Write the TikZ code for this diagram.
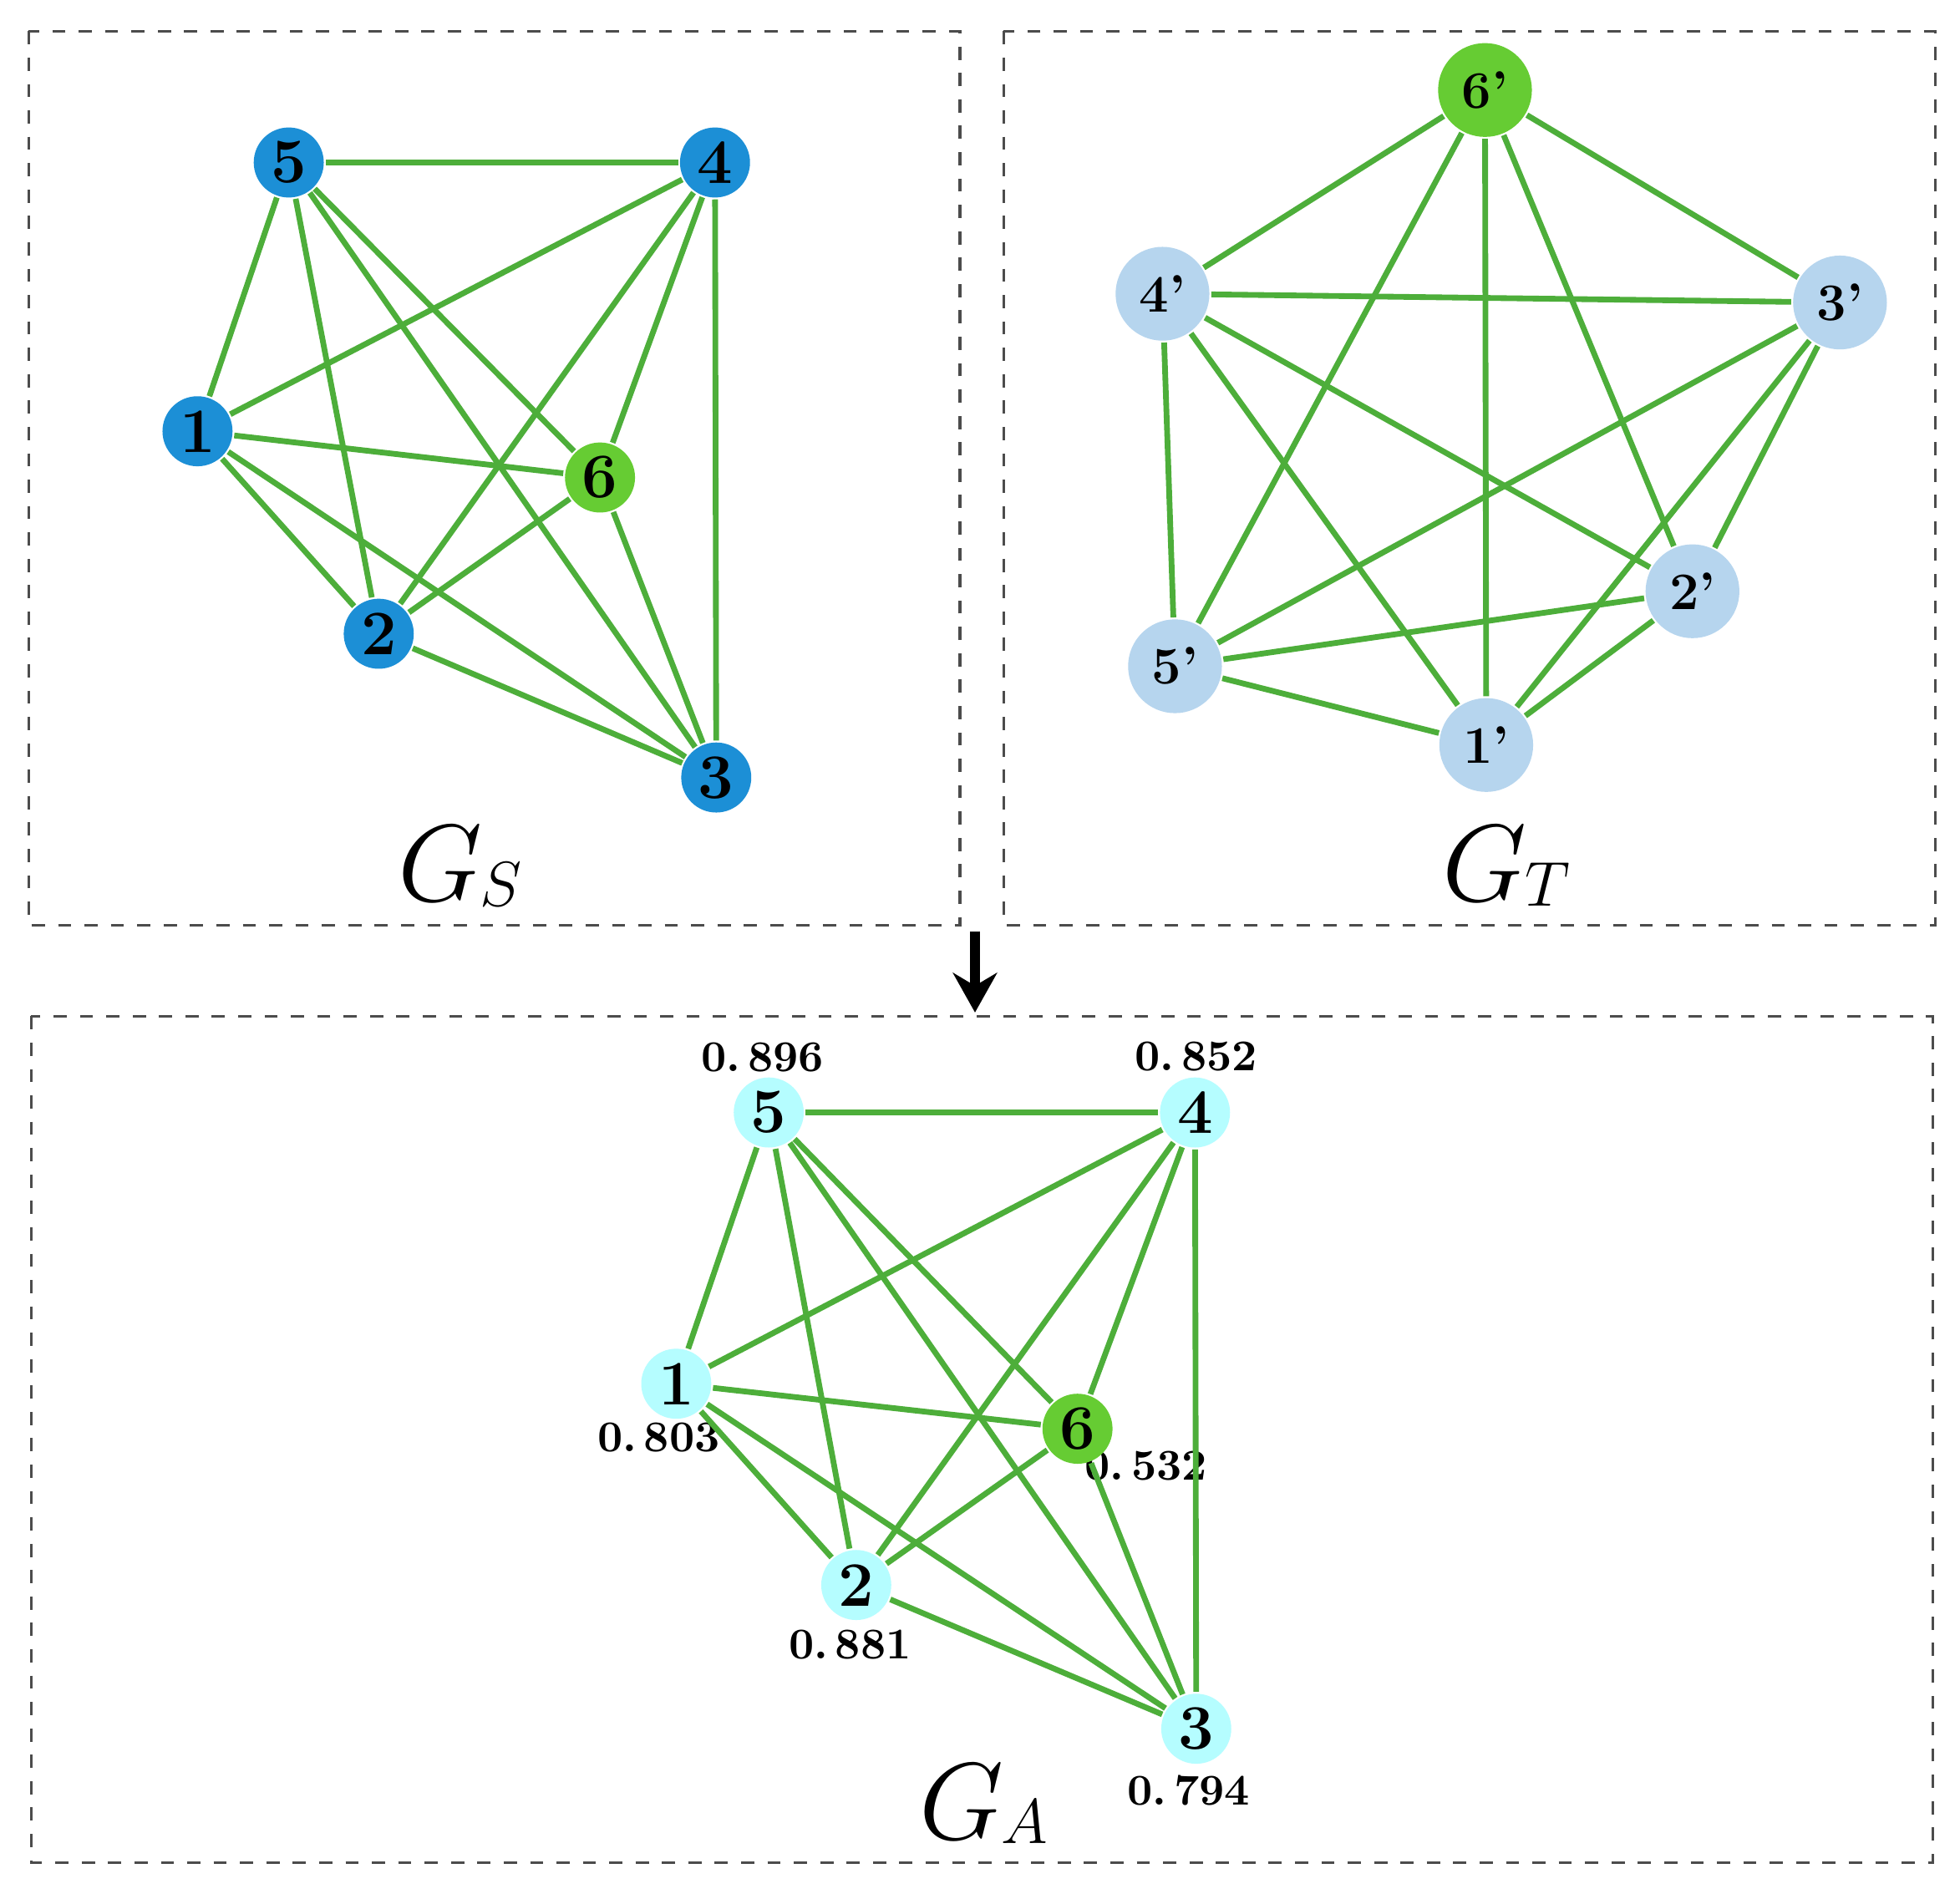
\documentclass[tikz,border=0pt]{standalone}
\usetikzlibrary{arrows.meta}
\definecolor{edgegreen}{HTML}{4DAE3A}
\definecolor{nodegreen}{HTML}{66CC33}
\definecolor{darkblue}{HTML}{1C8FD6}
\definecolor{paleblue}{HTML}{B6D5EE}
\definecolor{palecyan}{HTML}{B5FDFF}
\newcommand{\gsub}[1]{$G$\kern-0.5pt\raisebox{-1pt}{\fontsize{14}{14}\selectfont$#1$}}
\begin{document}
\begin{tikzpicture}[x=0.01cm, y=-0.01cm,
    vtx/.style={circle, draw=white, line width=0.6pt, minimum size=0.57cm, inner sep=0pt, font=\Large\bfseries},
    big/.style={vtx, minimum size=0.76cm, font=\large\bfseries},
    edge/.style={edgegreen, line width=1.3pt},
    frame/.style={draw=black!70, dashed, line width=0.6pt},
    score/.style={font=\normalsize\bfseries},
    title/.style={font=\fontsize{24}{26}\selectfont}]
  \useasboundingbox (0,0) rectangle (1568,1515);

  % Frames
  \draw[frame] (23,25) rectangle (768,740);
  \draw[frame] (803,25) rectangle (1548,740);
  \draw[frame] (25,813) rectangle (1546,1490);
  \coordinate (top) at (780,745);
  \coordinate (bot) at (780,810);
  \draw[line width=2.2pt, -{Stealth[length=9pt,width=10pt]}] (top) -- (bot);

  % Source graph
  \node[vtx, fill=darkblue] (s5) at (231,130) {5};
  \node[vtx, fill=darkblue] (s4) at (572,130) {4};
  \node[vtx, fill=darkblue] (s1) at (158,345) {1};
  \node[vtx, fill=nodegreen] (s6) at (480,382) {6};
  \node[vtx, fill=darkblue] (s2) at (303,507) {2};
  \node[vtx, fill=darkblue] (s3) at (573,622) {3};
  \node[title] (gs) at (368,693) {\gsub{S}};

  % Target graph
  \node[big, fill=nodegreen] (t6) at (1188,72) {6'};
  \node[big, fill=paleblue] (t4) at (930,235) {4'};
  \node[big, fill=paleblue] (t3) at (1472,242) {3'};
  \node[big, fill=paleblue] (t2) at (1354,473) {2'};
  \node[big, fill=paleblue] (t5) at (940,533) {5'};
  \node[big, fill=paleblue] (t1) at (1189,596) {1'};
  \node[title] (gt) at (1205,693) {\gsub{T}};

  % Aligned graph
  \node[vtx, fill=palecyan] (a5) at (615,890) {5};
  \node[vtx, fill=palecyan] (a4) at (956,890) {4};
  \node[vtx, fill=palecyan] (a1) at (541,1107) {1};
  \node[vtx, fill=nodegreen] (a6) at (862,1143) {6};
  \node[vtx, fill=palecyan] (a2) at (685,1268) {2};
  \node[vtx, fill=palecyan] (a3) at (957,1383) {3};
  \node[title] (ga) at (787,1443) {\gsub{A}};

  \node[score] (p5) at (610,846) {0.\,896};
  \node[score] (p4) at (957,845) {0.\,852};
  \node[score] (p1) at (527,1150) {0.\,803};
  \node[score] (p6) at (917,1173) {0.\,532};
  \node[score] (p2) at (680,1316) {0.\,881};
  \node[score] (p3) at (951,1432) {0.\,794};

  % Edges (all three graphs are complete)
  \foreach \g in {s,t,a}
    \foreach \i/\j in {1/2,1/3,1/4,1/5,1/6,2/3,2/4,2/5,2/6,3/4,3/5,3/6,4/5,4/6,5/6}
      \draw[edge] (\g\i) -- (\g\j);
  % redraw nodes on top
  \foreach \g/\c in {s5/darkblue,s4/darkblue,s1/darkblue,s6/nodegreen,s2/darkblue,s3/darkblue}
    \fill[\c] (\g) circle (0.28cm);
  \foreach \g/\c in {t6/nodegreen,t4/paleblue,t3/paleblue,t2/paleblue,t5/paleblue,t1/paleblue}
    \fill[\c] (\g) circle (0.375cm);
  \foreach \g/\c in {a5/palecyan,a4/palecyan,a1/palecyan,a6/nodegreen,a2/palecyan,a3/palecyan}
    \fill[\c] (\g) circle (0.28cm);
  \foreach \g/\t in {s5/5,s4/4,s1/1,s6/6,s2/2,s3/3,a5/5,a4/4,a1/1,a6/6,a2/2,a3/3}
    \node[font=\Large\bfseries] at (\g) {\t};
  \foreach \g/\t in {t6/6',t4/4',t3/3',t2/2',t5/5',t1/1'}
    \node[font=\large\bfseries] at (\g) {\t};
\end{tikzpicture}
\end{document}
